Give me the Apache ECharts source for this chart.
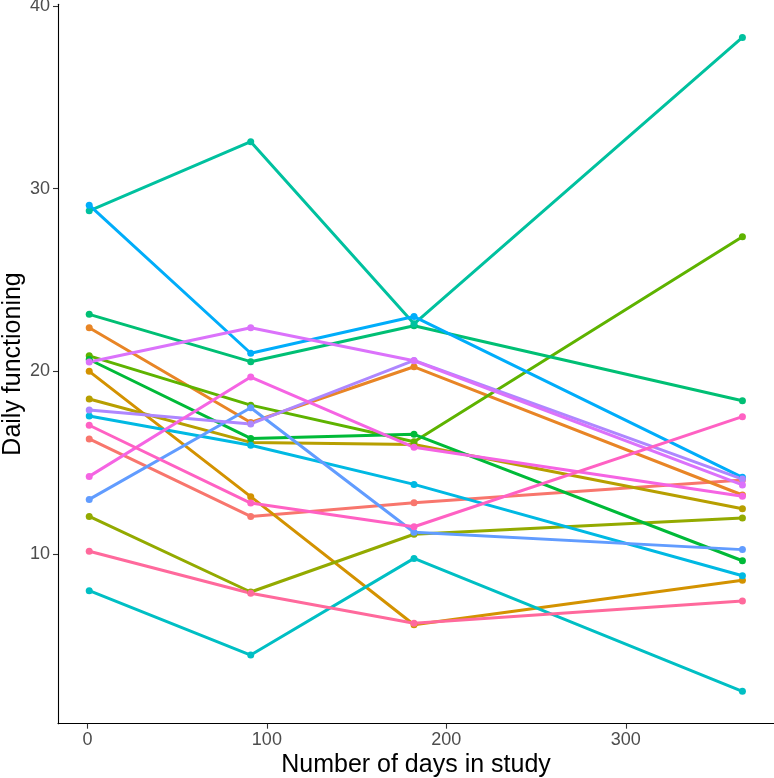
<!DOCTYPE html>
<html>
<head>
<meta charset="utf-8">
<script src="https://cdn.jsdelivr.net/npm/echarts@6/dist/echarts.min.js"></script>
<style>
html,body{margin:0;padding:0;background:#fff;}
#chart{width:774px;height:778px;}
</style>
</head>
<body>
<div id="chart"></div>
<script>
// ---- data ----
const days = [1, 91, 182, 365];
const xTicks = [0, 100, 200, 300];
const yTicks = [10, 20, 30, 40];
const subjects = ['1','2','3','4','5','6','7','8','9','10','11','12','13','14','15','16','17','18'];
const s1  = [16.30, 12.06, 12.81, 14.05];
const s2  = [22.39, 17.20, 20.25, 13.23];
const s3  = [20.00, 13.14, 6.13, 8.56];
const s4  = [18.49, 16.11, 16.00, 12.48];
const s5  = [12.06, 7.92, 11.08, 11.97];
const s6  = [20.85, 18.15, 16.15, 27.37];
const s7  = [20.65, 16.33, 16.55, 9.63];
const s8  = [23.12, 20.53, 22.50, 18.39];
const s9  = [28.79, 32.57, 22.60, 38.28];
const s10 = [7.99, 4.47, 9.76, 2.48];
const s11 = [17.55, 15.95, 13.81, 8.81];
const s12 = [29.10, 20.99, 23.00, 14.20];
const s13 = [12.99, 18.01, 11.19, 10.24];
const s14 = [17.88, 17.12, 20.60, 14.10];
const s15 = [20.51, 22.39, 20.58, 13.78];
const s16 = [14.25, 19.69, 15.84, 13.16];
const s17 = [17.05, 12.79, 11.49, 17.52];
const s18 = [10.15, 7.85, 6.21, 7.43];
const values = [s1,s2,s3,s4,s5,s6,s7,s8,s9,s10,s11,s12,s13,s14,s15,s16,s17,s18];

// ggplot2 hue palette: hcl(h, c=100, l=65)
function hcl(h, c, l) {
  const XN = 95.047, YN = 100.0, ZN = 108.883;
  const hr = h * Math.PI / 180;
  const u = c * Math.cos(hr), v = c * Math.sin(hr);
  let Y = l > 7.999592 ? YN * Math.pow((l + 16) / 116, 3) : YN * l / 903.3;
  const t = XN + YN + ZN, x = XN / t, y = YN / t;
  const uN = 2 * x / (6 * y - x + 1.5), vN = 4.5 * y / (6 * y - x + 1.5);
  const U = u / (13 * l) + uN, V = v / (13 * l) + vN;
  const X = 9.0 * Y * U / (4 * V);
  const Z = -X / 3 - 5 * Y + 3 * Y / V;
  const g = w => w > 0.00304 ? 1.055 * Math.pow(w, 1 / 2.4) - 0.055 : 12.92 * w;
  const r = g((3.240479 * X - 1.537150 * Y - 0.498535 * Z) / YN);
  const gg = g((-0.969256 * X + 1.875992 * Y + 0.041556 * Z) / YN);
  const b = g((0.055648 * X - 0.204043 * Y + 1.057311 * Z) / YN);
  const hex = k => { const n = Math.round(Math.max(0, Math.min(1, k)) * 255); return (n < 16 ? '0' : '') + n.toString(16); };
  return '#' + hex(r) + hex(gg) + hex(b);
}
function huePal(n) {
  const out = [];
  const step = 360 / n;
  for (let i = 0; i < n; i++) out.push(hcl(15 + step * i, 100, 65));
  return out;
}
const colors = huePal(subjects.length);

const series = [];
subjects.forEach((name, i) => {
  const pts = days.map((d, j) => [d, values[i][j]]);
  series.push({
    name: name, type: 'line', data: pts, showSymbol: false, z: 2,
    lineStyle: { color: colors[i], width: 3 }, itemStyle: { color: colors[i] },
    silent: true
  });
});
subjects.forEach((name, i) => {
  const pts = days.map((d, j) => [d, values[i][j]]);
  series.push({
    name: name + '_pt', type: 'scatter', data: pts, symbol: 'circle', symbolSize: 7, z: 3,
    itemStyle: { color: colors[i], opacity: 1 }, silent: true
  });
});

const FONT = '"Liberation Sans", Arial, sans-serif';
const chart = echarts.init(document.getElementById('chart'), null, { renderer: 'canvas' });
chart.setOption({
  animation: false,
  backgroundColor: '#ffffff',
  grid: { left: 58, right: 0, top: 4.2, bottom: 54.3, containLabel: false, outerBoundsMode: 'none' },
  xAxis: {
    type: 'value', min: -16.4, max: 382.6,
    name: 'Number of days in study', nameLocation: 'middle', nameGap: 29, nameMoveOverlap: false,
    nameTextStyle: { color: '#000', fontSize: 25, fontFamily: FONT },
    axisLine: { show: true, onZero: false, lineStyle: { color: '#000', width: 1.1 } },
    axisTick: { show: true, length: 5, lineStyle: { color: '#333', width: 1.1 }, customValues: xTicks },
    axisLabel: { color: '#4d4d4d', fontSize: 18, fontFamily: FONT, margin: 7, customValues: xTicks },
    splitLine: { show: false }
  },
  yAxis: {
    type: 'value', min: 0.71, max: 40.1,
    name: 'Daily functioning', nameLocation: 'middle', nameGap: 32, nameRotate: 90, nameMoveOverlap: false,
    nameTextStyle: { color: '#000', fontSize: 25, fontFamily: FONT },
    axisLine: { show: true, onZero: false, lineStyle: { color: '#000', width: 1.1 } },
    axisTick: { show: true, length: 5, lineStyle: { color: '#333', width: 1.1 }, customValues: yTicks },
    axisLabel: { color: '#4d4d4d', fontSize: 18, fontFamily: FONT, margin: 8, customValues: yTicks },
    splitLine: { show: false }
  },
  series: series
});
</script>
</body>
</html>
